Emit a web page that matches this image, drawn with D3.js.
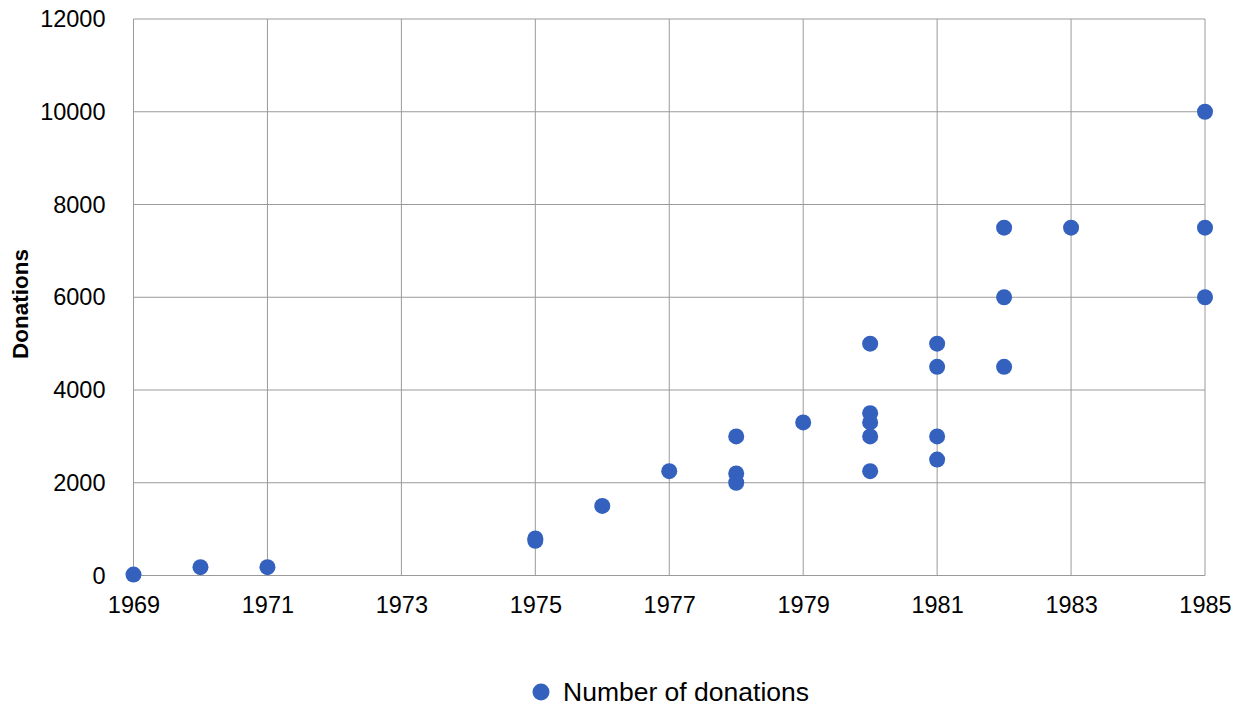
<!DOCTYPE html>
<html>
<head>
<meta charset="utf-8">
<script src="https://cdn.jsdelivr.net/npm/d3@7"></script>
<style>
  body { margin: 0; background: #fff; }
  text { font-family: "Liberation Sans", Arial, sans-serif; fill: #000; }
</style>
</head>
<body>
<script>
// data
var years = [1969, 1970, 1971, 1975, 1975, 1976, 1977, 1978, 1978, 1978, 1979,
  1980, 1980, 1980, 1980, 1980, 1981, 1981, 1981, 1981, 1982, 1982, 1982, 1983,
  1985, 1985, 1985];
var donations = [20, 180, 180, 800, 750, 1500, 2250, 3000, 2200, 2000, 3300,
  5000, 3500, 3300, 3000, 2250, 5000, 4500, 3000, 2500, 7500, 6000, 4500, 7500,
  10000, 7500, 6000];
var xTicks = [1969, 1971, 1973, 1975, 1977, 1979, 1981, 1983, 1985];
var yTicks = [0, 2000, 4000, 6000, 8000, 10000, 12000];
var seriesName = "Number of donations";
var yTitle = "Donations";

var width = 1241, height = 708;
var margin = {left: 133.5, right: 36, top: 19, bottom: 132.5};
var color = "#3361bd";

var svg = d3.select("body").append("svg")
  .attr("width", width)
  .attr("height", height);

var x = d3.scaleLinear().domain([1969, 1985]).range([margin.left, width - margin.right]);
var y = d3.scaleLinear().domain([0, 12000]).range([height - margin.bottom, margin.top]);

// grid
svg.append("g").selectAll("line.h")
  .data(yTicks)
  .enter().append("line")
  .attr("x1", x(1969)).attr("x2", x(1985))
  .attr("y1", function(d){ return y(d); }).attr("y2", function(d){ return y(d); })
  .attr("stroke", "#9a9a9a").attr("stroke-width", 1);
svg.append("g").selectAll("line.v")
  .data(xTicks)
  .enter().append("line")
  .attr("x1", function(d){ return x(d); }).attr("x2", function(d){ return x(d); })
  .attr("y1", y(0)).attr("y2", y(12000))
  .attr("stroke", "#9a9a9a").attr("stroke-width", 1);

// axes (labels only)
var yAxis = svg.append("g")
  .attr("transform", "translate(" + (margin.left - 28) + ",0)")
  .call(d3.axisLeft(y).tickValues(yTicks).tickSize(0).tickPadding(0).tickFormat(d3.format("d")));
yAxis.select(".domain").remove();
yAxis.selectAll("text").style("font-size", "23.5px").attr("font-family", null);

var xAxis = svg.append("g")
  .attr("transform", "translate(0," + (y(0) + 21) + ")")
  .call(d3.axisBottom(x).tickValues(xTicks).tickSize(0).tickPadding(0).tickFormat(d3.format("d")));
xAxis.select(".domain").remove();
xAxis.selectAll("text").style("font-size", "23.5px").attr("font-family", null);

// y title
svg.append("text")
  .attr("transform", "translate(28," + 304 + ") rotate(-90)")
  .attr("text-anchor", "middle")
  .style("font-size", "22.5px")
  .style("font-weight", "bold")
  .text(yTitle);

// points
svg.append("g").selectAll("circle")
  .data(years.map(function(d, i){ return {year: d, value: donations[i]}; }))
  .enter().append("circle")
  .attr("cx", function(d){ return x(d.year); })
  .attr("cy", function(d){ return y(d.value); })
  .attr("r", 8)
  .attr("fill", color);

// legend
var legend = svg.append("g").attr("transform", "translate(541,692)");
legend.append("circle").attr("r", 8.5).attr("fill", color);
legend.append("text")
  .attr("x", 22).attr("y", 9)
  .style("font-size", "26.5px")
  .text(seriesName);
</script>
</body>
</html>
